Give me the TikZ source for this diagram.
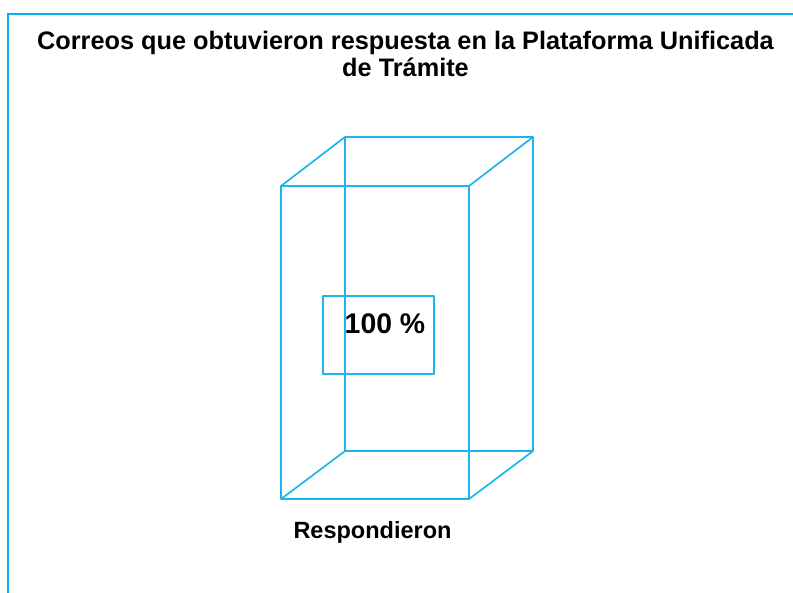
\documentclass[tikz,border=0pt]{standalone}
\usepackage{fontspec}
\setmainfont{Liberation Sans}
\definecolor{framecol}{HTML}{00B0F0}
\definecolor{boxcol}{HTML}{1CB5EA}
\begin{document}
\begin{tikzpicture}[x=1pt,y=-1pt,
  frameline/.style={draw=framecol,line width=2.8pt},
  edge/.style={draw=boxcol,line width=1.7pt,line join=round},
  txt/.style={text=black,inner sep=0pt}]
\useasboundingbox (0,0) rectangle (793,593);
\draw[frameline] (8,600) -- (8,14) -- (800,14);
% front face
\coordinate (f1) at (281,186);
\coordinate (f2) at (469,186);
\coordinate (f3) at (469,499);
\coordinate (f4) at (281,499);
% back face
\coordinate (b1) at (345,137);
\coordinate (b2) at (533,137);
\coordinate (b3) at (533,451);
\coordinate (b4) at (345,451);
\draw[edge] (b1) -- (b2) -- (b3) -- (b4) -- cycle;
\draw[edge] (f1) -- (f2) -- (f3) -- (f4) -- cycle;
\draw[edge] (f1) -- (b1);
\draw[edge] (f2) -- (b2);
\draw[edge] (f3) -- (b3);
\draw[edge] (f4) -- (b4);
% label box
\node[edge,minimum width=111pt,minimum height=78pt,inner sep=0pt] (lbl) at (378.5,335) {};
\node[txt,anchor=base,font=\fontsize{28.4}{32}\selectfont\bfseries] (pct) at (385,334) {100 \%};
\node[txt,anchor=base,font=\fontsize{25.3}{27.5}\selectfont\bfseries,align=center] (title) at (405.5,77) {Correos que obtuvieron respuesta en la Plataforma Unificada\\de Trámite};
\node[txt,anchor=base,font=\fontsize{23.5}{27}\selectfont\bfseries] (cat) at (372.5,539) {Respondieron};
\end{tikzpicture}
\end{document}
